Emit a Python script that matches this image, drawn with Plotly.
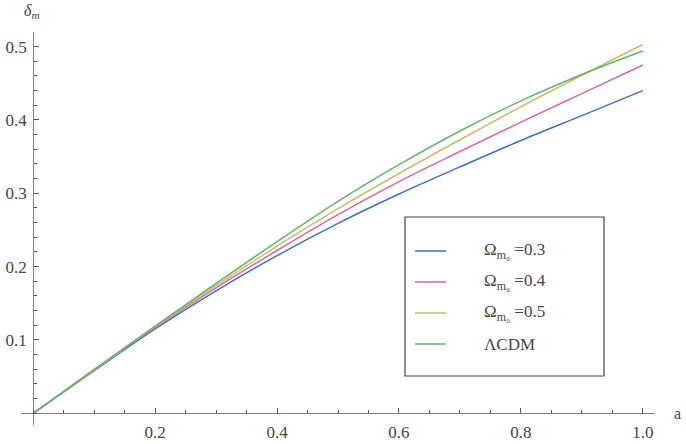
import plotly.graph_objects as go

# ---- data ----
a_vals = [0.0, 0.1, 0.2, 0.3, 0.4, 0.5, 0.6, 0.7, 0.8, 0.9, 1.0]
delta_om03 = [0.0, 0.058, 0.115, 0.167, 0.215, 0.259, 0.299, 0.336, 0.372, 0.406, 0.440]
delta_om04 = [0.0, 0.059, 0.117, 0.171, 0.222, 0.271, 0.316, 0.357, 0.397, 0.436, 0.475]
delta_om05 = [0.0, 0.059, 0.118, 0.174, 0.228, 0.279, 0.327, 0.373, 0.418, 0.461, 0.503]
delta_lcdm = [0.0, 0.060, 0.119, 0.177, 0.234, 0.289, 0.339, 0.385, 0.426, 0.462, 0.494]

series_names = ["Ω<sub>m₀</sub> =0.3", "Ω<sub>m₀</sub> =0.4", "Ω<sub>m₀</sub> =0.5", "ΛCDM"]
series_data = [delta_om03, delta_om04, delta_om05, delta_lcdm]
series_colors = ["#3d6fc2", "#d66aa2", "#cdb96c", "#62b46c"]

x_tickvals = [0.2, 0.4, 0.6, 0.8, 1.0]
x_ticktext = ["0.2", "0.4", "0.6", "0.8", "1.0"]
y_tickvals = [0.1, 0.2, 0.3, 0.4, 0.5]
y_ticktext = ["0.1", "0.2", "0.3", "0.4", "0.5"]

W, H = 686, 444
ML, MR, MT, MB = 21, 31, 32, 19
XR = [-0.02, 1.02]
YR = [-0.016, 0.52]

def px(x):
    return (x - ML) / (W - ML - MR)

def py(y):
    return (H - MB - y) / (H - MT - MB)

FONT = "Times New Roman, Liberation Serif, serif"
AXC = "#808080"
FS = 17

fig = go.Figure()
for name, ys, col in zip(series_names, series_data, series_colors):
    fig.add_trace(go.Scatter(x=a_vals, y=ys, mode="lines", name=name,
                             line=dict(color=col, width=1.5, shape="spline"),
                             showlegend=False, hoverinfo="skip"))

x_pos = (0 - YR[0]) / (YR[1] - YR[0])
y_pos = (0 - XR[0]) / (XR[1] - XR[0])

fig.update_layout(
    width=W, height=H,
    margin=dict(l=ML, r=MR, t=MT, b=MB, autoexpand=False),
    paper_bgcolor="white", plot_bgcolor="white",
    font=dict(family=FONT, size=FS, color="#444"),
    xaxis=dict(range=XR, anchor="free", position=x_pos, showline=True,
               automargin=False,
               linecolor=AXC, linewidth=1.3, showgrid=False, zeroline=False,
               tickmode="array", tickvals=x_tickvals, ticktext=x_ticktext,
               ticks="inside", ticklen=5, tickwidth=1.2, tickcolor="#555",
               minor=dict(dtick=0.05, tick0=0, ticks="inside", ticklen=3,
                          tickwidth=1, tickcolor="#555"),
               tickfont=dict(family=FONT, size=FS, color="#444"),
               ticklabelstandoff=3),
    yaxis=dict(range=YR, anchor="free", position=y_pos, showline=True,
               automargin=False,
               linecolor=AXC, linewidth=1.3, showgrid=False, zeroline=False,
               tickmode="array", tickvals=y_tickvals, ticktext=y_ticktext,
               ticks="inside", ticklen=5, tickwidth=1.2, tickcolor="#555",
               minor=dict(dtick=0.02, tick0=0, ticks="inside", ticklen=3,
                          tickwidth=1, tickcolor="#555"),
               tickfont=dict(family=FONT, size=FS, color="#444"),
               ticklabelstandoff=3),
)

# axis labels
fig.add_annotation(xref="paper", yref="paper", x=px(32), y=py(12),
                   text="<i>δ</i><sub><i>m</i></sub>", showarrow=False,
                   font=dict(family=FONT, size=16, color="#444"),
                   xanchor="center", yanchor="middle")
fig.add_annotation(xref="paper", yref="paper", x=px(677), y=py(413),
                   text="a", showarrow=False,
                   font=dict(family=FONT, size=16, color="#444"),
                   xanchor="center", yanchor="middle")

# manual legend
fig.add_shape(type="rect", xref="paper", yref="paper",
              x0=px(405), x1=px(604), y0=py(376), y1=py(217),
              line=dict(color="#444", width=1.2), fillcolor="white", layer="above")
legend_y = [251, 282, 313, 344]
for name, col, ly in zip(series_names, series_colors, legend_y):
    fig.add_shape(type="line", xref="paper", yref="paper",
                  x0=px(415), x1=px(446), y0=py(ly), y1=py(ly),
                  line=dict(color=col, width=1.5), layer="above")
    fig.add_annotation(xref="paper", yref="paper", x=px(482), y=py(ly),
                       text=name, showarrow=False,
                       font=dict(family=FONT, size=FS, color="#444"),
                       xanchor="left", yanchor="middle")

fig.write_html("out.html")
